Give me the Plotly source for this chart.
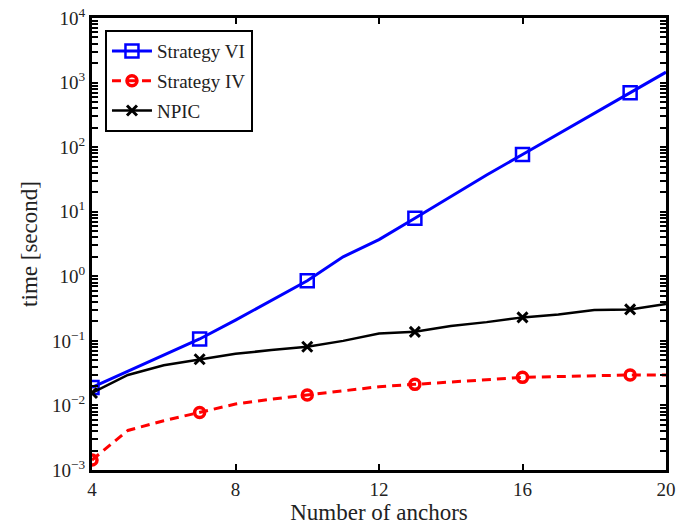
import plotly.graph_objects as go

anchors = list(range(4, 21))
strategy_vi = [0.019, 0.034, 0.06, 0.107, 0.21, 0.42, 0.85, 2.0, 3.7, 7.9,
               17, 37, 77, 160, 330, 693, 1450]
strategy_iv = [0.00143, 0.0041, 0.0058, 0.0078, 0.0105, 0.0125, 0.0145, 0.017,
               0.0195, 0.0212, 0.023, 0.025, 0.0272, 0.028, 0.029, 0.0296, 0.0296]
npic = [0.0156, 0.0296, 0.042, 0.052, 0.063, 0.072, 0.081, 0.10, 0.13, 0.138,
        0.17, 0.195, 0.231, 0.255, 0.30, 0.307, 0.371]
marker_x = [4, 7, 10, 13, 16, 19]
x_ticks = [4, 8, 12, 16, 20]
y_ticks = [1e-3, 1e-2, 1e-1, 1e0, 1e1, 1e2, 1e3, 1e4]
y_ticktext = ["10<sup>−3</sup>", "10<sup>−2</sup>", "10<sup>−1</sup>", "10<sup>0</sup>",
              "10<sup>1</sup>", "10<sup>2</sup>", "10<sup>3</sup>", "10<sup>4</sup>"]
y_minor = [m * 10 ** e for e in range(-3, 4) for m in range(2, 10)]

FONT = "Liberation Serif"
TXT = "#222"

def marker_values(vals):
    return [vals[anchors.index(x)] for x in marker_x]

fig = go.Figure()
series = [
    ("Strategy VI", strategy_vi, dict(color="#0000ff", width=3), dict(symbol="square-open", size=13, color="#0000ff", line=dict(width=2.5, color="#0000ff"))),
    ("Strategy IV", strategy_iv, dict(color="#ff0000", width=3, dash="9px,6px"), dict(symbol="circle-open", size=10, color="#ff0000", line=dict(width=3.5, color="#ff0000"))),
    ("NPIC", npic, dict(color="#000000", width=2.5), dict(symbol="x-thin-open", size=10, color="#000000", line=dict(width=3, color="#000000"))),
]
for name, vals, line, marker in series:
    fig.add_trace(go.Scatter(x=anchors, y=vals, mode="lines", line=line, name=name,
                             legendgroup=name, showlegend=False, hoverinfo="skip"))
    fig.add_trace(go.Scatter(x=marker_x, y=marker_values(vals), mode="markers",
                             marker=marker, name=name, legendgroup=name, showlegend=False))
    fig.add_trace(go.Scatter(x=[None], y=[None], mode="lines+markers", line=line,
                             marker=marker, name=name, legendgroup=name))

axis_common = dict(showline=True, linecolor="black", linewidth=3, mirror="ticks",
                   ticks="inside", tickcolor="black", tickwidth=2, ticklen=6,
                   showgrid=False, zeroline=False, automargin=False,
                   ticklabeloverflow="allow",
                   tickfont=dict(family=FONT, size=19, color=TXT))

fig.update_xaxes(range=[4, 20], tickvals=x_ticks,
                 title=dict(text="Number of anchors", font=dict(family=FONT, size=23, color=TXT), standoff=6),
                 **axis_common)
fig.update_yaxes(type="log", range=[-3, 4], tickmode="array",
                 tickvals=y_ticks + y_minor, ticktext=y_ticktext + [""] * len(y_minor),
                 title=dict(text="time [second]", font=dict(family=FONT, size=23, color=TXT), standoff=8),
                 **axis_common)

# page body has an 8px margin, so margins compensate
fig.update_layout(
    width=691, height=529,
    margin=dict(l=84, r=33, t=10, b=67),
    plot_bgcolor="white", paper_bgcolor="white",
    showlegend=True,
    legend=dict(x=0.0226, y=0.973, xanchor="left", yanchor="top",
                bgcolor="white", bordercolor="black", borderwidth=2,
                font=dict(family=FONT, size=19, color=TXT),
                itemwidth=40, tracegroupgap=2),
)

fig.write_html("out.html")
